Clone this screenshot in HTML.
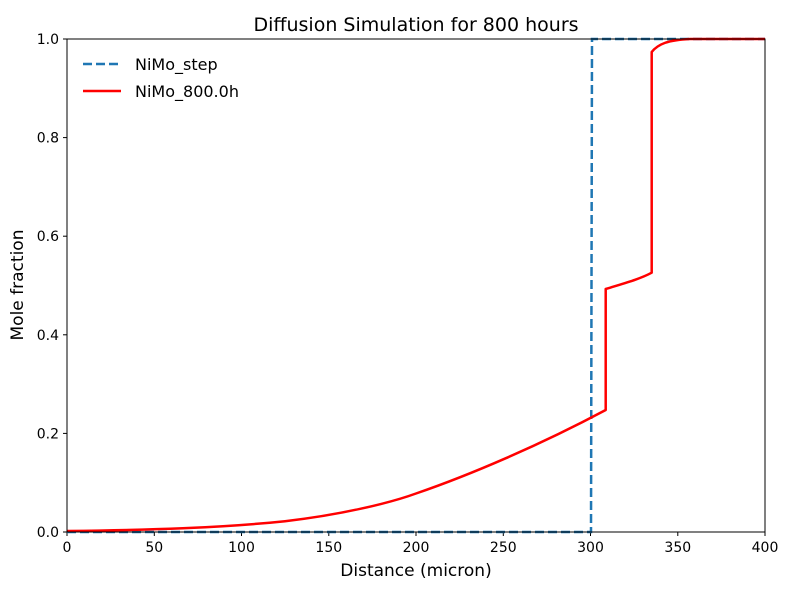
<!DOCTYPE html>
<html><head><style>body{margin:0;background:#fff}</style></head><body>
<svg width="789" height="586" xmlns="http://www.w3.org/2000/svg" font-family="'DejaVu Sans', 'Liberation Sans', sans-serif">
<rect width="789" height="586" fill="#fff"/>
<text x="416" y="31" font-size="19" text-anchor="middle">Diffusion Simulation for 800 hours</text>
<g stroke="#000" stroke-width="1">
<line x1="67" y1="532" x2="67" y2="536"/><line x1="154.3" y1="532" x2="154.3" y2="536"/><line x1="241.5" y1="532" x2="241.5" y2="536"/><line x1="328.8" y1="532" x2="328.8" y2="536"/><line x1="416" y1="532" x2="416" y2="536"/><line x1="503.3" y1="532" x2="503.3" y2="536"/><line x1="590.5" y1="532" x2="590.5" y2="536"/><line x1="677.8" y1="532" x2="677.8" y2="536"/><line x1="765" y1="532" x2="765" y2="536"/>
<line x1="63" y1="532" x2="67" y2="532"/><line x1="63" y1="433.4" x2="67" y2="433.4"/><line x1="63" y1="334.8" x2="67" y2="334.8"/><line x1="63" y1="236.2" x2="67" y2="236.2"/><line x1="63" y1="137.6" x2="67" y2="137.6"/><line x1="63" y1="39" x2="67" y2="39"/>
</g>
<g font-size="14" text-anchor="middle">
<text x="67" y="552">0</text><text x="154.3" y="552">50</text><text x="241.5" y="552">100</text><text x="328.8" y="552">150</text><text x="416" y="552">200</text><text x="503.3" y="552">250</text><text x="590.5" y="552">300</text><text x="677.8" y="552">350</text><text x="765" y="552">400</text>
</g>
<g font-size="14" text-anchor="end">
<text x="59" y="537">0.0</text><text x="59" y="438.4">0.2</text><text x="59" y="339.8">0.4</text><text x="59" y="241.2">0.6</text><text x="59" y="142.6">0.8</text><text x="59" y="44">1.0</text>
</g>
<text x="416" y="576" font-size="17" text-anchor="middle">Distance (micron)</text>
<text x="23" y="285" font-size="17" text-anchor="middle" transform="rotate(-90 23 285)">Mole fraction</text>
<polyline fill="none" stroke="#1f77b4" stroke-width="2.5" stroke-dasharray="9,4" points="67,532 591,532 592,39 765,39"/>
<path fill="none" stroke="#ff0000" stroke-width="2.5" stroke-linejoin="round" d="M67,531 C150,530 220,528 285,521.2 C340,515 390,503 416,493.5 C470,475 540,445 605.7,410 L605.7,289 C625,283 640,279 651.7,272.7 L651.7,52 C658,44 668,40 690,39 L765,39"/>
<rect x="67" y="39" width="698" height="493" fill="none" stroke="#000" stroke-width="1"/>
<line x1="83" y1="64" x2="121" y2="64" stroke="#1f77b4" stroke-width="2.5" stroke-dasharray="9,4"/>
<line x1="83" y1="91" x2="121" y2="91" stroke="#ff0000" stroke-width="2.5"/>
<text x="135" y="70" font-size="16">NiMo_step</text>
<text x="135" y="97" font-size="16">NiMo_800.0h</text>
</svg>
</body></html>
